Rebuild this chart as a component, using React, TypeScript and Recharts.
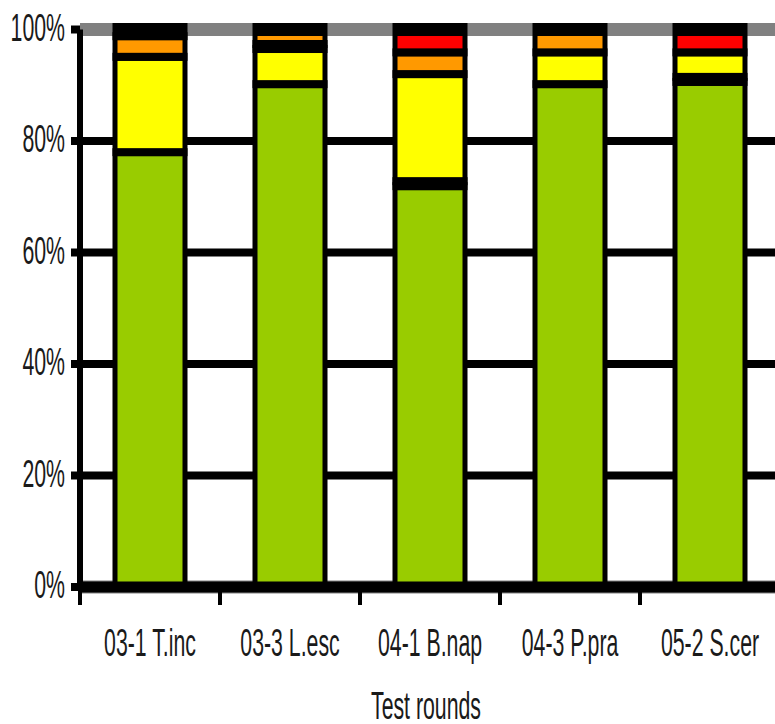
import { Bar, BarChart, CartesianGrid, XAxis, YAxis } from "recharts";

// test rounds and the share of each result class (percent)
const rounds = ["03-1 T.inc", "03-3 L.esc", "04-1 B.nap", "04-3 P.pra", "05-2 S.cer"];
const greenShare = [78.0, 90.2, 71.9, 90.2, 90.6];
const darkLowShare = [0, 0, 0.9, 0, 0.9];
const yellowShare = [17.1, 6.3, 19.2, 5.7, 4.4];
const darkMidShare = [0, 0.9, 0, 0, 0];
const orangeShare = [3.7, 2.6, 3.9, 4.1, 0];
const redShare = [1.2, 0, 4.1, 0, 4.1];
const yTicks = [0, 20, 40, 60, 80, 100];
const capTicks = [100];

const seriesKeys = ["green", "darkLow", "yellow", "darkMid", "orange", "red"];
const seriesColors: Record<string, string> = {
  green: "#99cc00",
  darkLow: "#000000",
  yellow: "#ffff00",
  darkMid: "#000000",
  orange: "#ff9900",
  red: "#ff0000",
};

const data = rounds.map((round, i) => ({
  round,
  green: greenShare[i],
  darkLow: darkLowShare[i],
  yellow: yellowShare[i],
  darkMid: darkMidShare[i],
  orange: orangeShare[i],
  red: redShare[i],
}));

const font = "'Liberation Sans', Arial, sans-serif";
const textColor = "#1a1a1a";

// segment with a heavy black outline (thicker top/bottom than sides, like the stretched original)
function Segment(props: any) {
  const { x, y, width, height, fill, payload, seriesKey } = props;
  if (!height || height <= 0) return <g />;
  const idx = seriesKeys.indexOf(seriesKey);
  const upTo = seriesKeys.slice(0, idx + 1).reduce((s, k) => s + (payload[k] || 0), 0);
  const total = seriesKeys.reduce((s, k) => s + (payload[k] || 0), 0);
  const isTop = upTo >= total - 0.01;
  const side = 2.5;
  const topB = isTop ? 6.5 : 4;
  const botB = 4;
  const innerH = height - topB - botB;
  return (
    <g>
      <rect x={x - side} y={y - topB} width={width + side * 2} height={height + topB + botB} fill="#000" />
      {innerH > 0 && (
        <rect x={x + side} y={y + topB} width={width - side * 2} height={innerH} fill={fill} />
      )}
    </g>
  );
}

function RoundTick(props: any) {
  const { x, y, payload } = props;
  const half = payload && typeof payload.offset === "number" && payload.offset > 0 ? payload.offset : 70;
  return (
    <g>
      <line x1={x - half} x2={x - half} y1={y} y2={y + 18} stroke="#000" strokeWidth={4} />
      <text
        transform={`translate(${x},${y + 69}) scale(0.56,1)`}
        textAnchor="middle"
        fontSize={38}
        fontFamily={font}
        fill={textColor}
      >
        {payload.value}
      </text>
    </g>
  );
}

function PctTick(props: any) {
  const { x, y, payload } = props;
  return (
    <text
      transform={`translate(${x - 6},${y + 11}) scale(0.56,1)`}
      textAnchor="end"
      fontSize={38}
      fontFamily={font}
      fill={textColor}
    >
      {`${payload.value}%`}
    </text>
  );
}

function AxisTitle(props: any) {
  const vb = props.viewBox || { x: 80, y: 587, width: 700, height: 137 };
  return (
    <text
      transform={`translate(${vb.x + vb.width / 2 - 4},${vb.y + 132}) scale(0.56,1)`}
      textAnchor="middle"
      fontSize={38}
      fontFamily={font}
      fill={textColor}
    >
      Test rounds
    </text>
  );
}

export default function App() {
  return (
    <div
      style={{
        position: "absolute",
        left: 0,
        top: 0,
        width: 775,
        height: 724,
        overflow: "hidden",
        background: "#fff",
      }}
    >
      <BarChart
        width={780}
        height={724}
        data={data}
        margin={{ top: 29.5, right: 0, bottom: 0, left: 0 }}
        barSize={70}
      >
        <CartesianGrid vertical={false} stroke="#000" strokeWidth={8} />
        <CartesianGrid vertical={false} yAxisId="cap" stroke="#808080" strokeWidth={13} />
        <XAxis
          dataKey="round"
          height={137}
          tickSize={0}
          tickMargin={0}
          tickLine={false}
          axisLine={{ stroke: "#000", strokeWidth: 11 }}
          tick={<RoundTick />}
          interval={0}
          label={{ value: "Test rounds", content: (p: any) => <AxisTitle {...p} /> }}
        />
        <YAxis
          width={80}
          domain={[0, 100]}
          ticks={yTicks}
          tickSize={9}
          tickMargin={0}
          tickLine={{ stroke: "#000", strokeWidth: 8 }}
          axisLine={{ stroke: "#000", strokeWidth: 6 }}
          tick={<PctTick />}
        />
        <YAxis yAxisId="cap" hide domain={[0, 100]} ticks={capTicks} />
        {seriesKeys.map((key) => (
          <Bar
            key={key}
            dataKey={key}
            stackId="share"
            fill={seriesColors[key]}
            isAnimationActive={false}
            shape={(p: any) => <Segment {...p} seriesKey={key} />}
          />
        ))}
      </BarChart>
    </div>
  );
}
